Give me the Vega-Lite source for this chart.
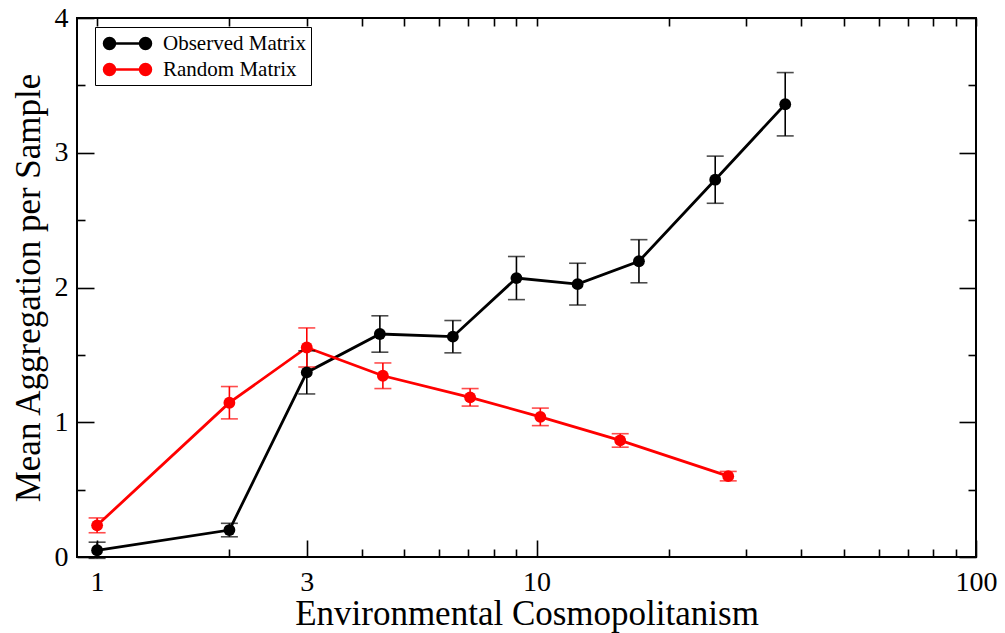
{
  "$schema": "https://vega.github.io/schema/vega-lite/v6.json",
  "width": 899,
  "height": 539,
  "autosize": {"type": "none"},
  "padding": {"left": 77, "top": 18, "right": 29, "bottom": 76},
  "background": "white",
  "config": {
    "view": {"stroke": "black", "strokeWidth": 2},
    "font": "Liberation Serif",
    "axis": {"domain": false, "grid": false, "tickColor": "black", "tickWidth": 1.6, "labelFont": "Liberation Serif", "labelFontSize": 28, "labelColor": "black", "titleFont": "Liberation Serif", "titleFontSize": 35, "titleFontWeight": "normal", "titleColor": "black"}
  },
  "data": {"values": [
    {"series": "Observed Matrix", "x": 1, "y": 0.05, "lo": -0.01, "hi": 0.11},
    {"series": "Observed Matrix", "x": 2, "y": 0.2, "lo": 0.15, "hi": 0.25},
    {"series": "Observed Matrix", "x": 3, "y": 1.37, "lo": 1.21, "hi": 1.53},
    {"series": "Observed Matrix", "x": 4.4, "y": 1.655, "lo": 1.52, "hi": 1.79},
    {"series": "Observed Matrix", "x": 6.45, "y": 1.635, "lo": 1.515, "hi": 1.755},
    {"series": "Observed Matrix", "x": 9.0, "y": 2.07, "lo": 1.91, "hi": 2.23},
    {"series": "Observed Matrix", "x": 12.4, "y": 2.025, "lo": 1.87, "hi": 2.18},
    {"series": "Observed Matrix", "x": 17.1, "y": 2.195, "lo": 2.035, "hi": 2.355},
    {"series": "Observed Matrix", "x": 25.5, "y": 2.8, "lo": 2.625, "hi": 2.975},
    {"series": "Observed Matrix", "x": 36.8, "y": 3.36, "lo": 3.125, "hi": 3.595},
    {"series": "Random Matrix", "x": 1, "y": 0.235, "lo": 0.18, "hi": 0.29},
    {"series": "Random Matrix", "x": 2, "y": 1.145, "lo": 1.025, "hi": 1.265},
    {"series": "Random Matrix", "x": 3, "y": 1.555, "lo": 1.41, "hi": 1.7},
    {"series": "Random Matrix", "x": 4.47, "y": 1.345, "lo": 1.25, "hi": 1.44},
    {"series": "Random Matrix", "x": 7.06, "y": 1.185, "lo": 1.12, "hi": 1.25},
    {"series": "Random Matrix", "x": 10.2, "y": 1.04, "lo": 0.975, "hi": 1.105},
    {"series": "Random Matrix", "x": 15.5, "y": 0.865, "lo": 0.815, "hi": 0.915},
    {"series": "Random Matrix", "x": 27.3, "y": 0.6, "lo": 0.565, "hi": 0.635}
  ]},
  "layer": [
    {
      "mark": {"type": "line", "strokeWidth": 2.8, "clip": true},
      "encoding": {
        "x": {"field": "x", "type": "quantitative", "scale": {"type": "log", "domain": [0.9, 100], "nice": false},
              "axis": {"orient": "bottom", "values": [1, 3, 10, 100], "tickSize": -17, "labelPadding": 28, "labelFlush": false, "title": "Environmental Cosmopolitanism", "titlePadding": 0, "format": "d", "labelOverlap": false}},
        "y": {"field": "y", "type": "quantitative", "scale": {"domain": [0, 4], "nice": false, "zero": false},
              "axis": {"orient": "left", "values": [0, 1, 2, 3, 4], "tickSize": -17, "labelPadding": 26, "labelFlush": false, "title": "Mean Aggregation per Sample", "titlePadding": 8, "format": "d"}},
        "color": {"field": "series", "type": "nominal",
                  "scale": {"domain": ["Observed Matrix", "Random Matrix"], "range": ["#000000", "#ff0000"]},
                  "legend": {"orient": "none", "legendX": 18, "legendY": 9, "title": null,
                             "symbolType": "M-0.5,0L3.7,0M-0.75,0A0.55,0.55 0 1,0 0.35,0A0.55,0.55 0 1,0 -0.75,0ZM2.85,0A0.55,0.55 0 1,0 3.95,0A0.55,0.55 0 1,0 2.85,0Z",
                             "symbolSize": 400, "symbolStrokeWidth": 2.5, "labelOffset": 40, "labelFont": "Liberation Serif", "labelFontSize": 21, "labelColor": "black",
                             "padding": 5, "rowPadding": 4, "strokeColor": "black", "fillColor": "white", "labelLimit": 400,
                             "encode": {"symbols": {"update": {"fill": {"scale": "color", "field": "value"}, "stroke": {"scale": "color", "field": "value"}, "fillOpacity": {"value": 1}, "opacity": {"value": 1}}}}}}
      }
    },
    {
      "mark": {"type": "rule", "strokeWidth": 1.6},
      "encoding": {
        "x": {"field": "x", "type": "quantitative", "axis": {"orient": "bottom", "values": [2, 4, 5, 6, 7, 8, 9, 20, 30, 40, 50, 60, 70, 80, 90], "tickSize": -8, "labels": false, "title": null}},
        "y": {"field": "lo", "type": "quantitative", "axis": {"orient": "left", "values": [0.5, 1.5, 2.5, 3.5], "tickSize": -8, "labels": false, "title": null}},
        "y2": {"field": "hi"},
        "color": {"field": "series", "type": "nominal", "legend": null}
      }
    },
    {
      "mark": {"type": "tick", "orient": "horizontal", "size": 17, "thickness": 1.6},
      "encoding": {
        "x": {"field": "x", "type": "quantitative", "axis": {"orient": "top", "values": [1, 2, 3, 4, 5, 6, 7, 8, 9, 10, 20, 30, 40, 50, 60, 70, 80, 90, 100], "tickSize": -8, "labels": false, "title": null}},
        "y": {"field": "lo", "type": "quantitative", "axis": {"orient": "right", "values": [0, 1, 2, 3, 4], "tickSize": -17, "labels": false, "title": null}},
        "color": {"field": "series", "type": "nominal", "legend": null}
      }
    },
    {
      "mark": {"type": "tick", "orient": "horizontal", "size": 17, "thickness": 1.6},
      "encoding": {
        "x": {"field": "x", "type": "quantitative", "axis": null},
        "y": {"field": "hi", "type": "quantitative", "axis": {"orient": "right", "values": [0.5, 1.5, 2.5, 3.5], "tickSize": -8, "labels": false, "title": null}},
        "color": {"field": "series", "type": "nominal", "legend": null}
      }
    },
    {
      "mark": {"type": "point", "filled": true, "size": 140, "opacity": 1, "clip": true},
      "encoding": {
        "x": {"field": "x", "type": "quantitative", "axis": null},
        "y": {"field": "y", "type": "quantitative", "axis": null},
        "color": {"field": "series", "type": "nominal", "legend": null}
      }
    }
  ],
  "resolve": {"axis": {"x": "independent", "y": "independent"}}
}
